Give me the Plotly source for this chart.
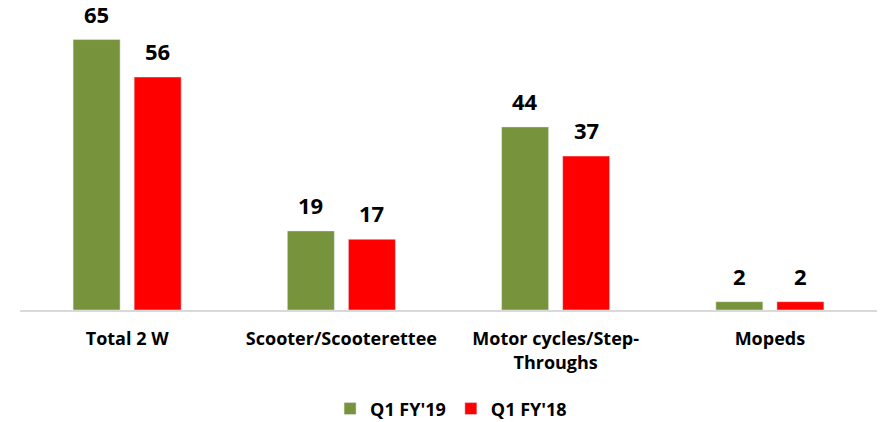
import plotly.graph_objects as go

categories = ["Total 2 W", "Scooter/Scooterettee", "Motor cycles/Step-<br>Throughs", "Mopeds"]
q1_fy19 = [65, 19, 44, 2]
q1_fy18 = [56, 17, 37, 2]

green = "#77933C"
red = "#FF0000"
font_family = "Open Sans, Arial, sans-serif"

fig = go.Figure()
fig.add_trace(go.Bar(x=categories, y=q1_fy19, name="Q1 FY'19", marker_color=green))
fig.add_trace(go.Bar(x=categories, y=q1_fy18, name="Q1 FY'18", marker_color=red))

# value labels above each bar
annotations = []
for vals, shift in [(q1_fy19, -30.5), (q1_fy18, 30.5)]:
    for cat, v in zip(categories, vals):
        annotations.append(dict(x=cat, y=v, text=str(v), showarrow=False,
                                xshift=shift, yshift=9, yanchor="bottom",
                                font=dict(size=22, color="black", family=font_family, weight="bold")))

fig.update_layout(
    width=881, height=422,
    margin=dict(l=20, r=4, t=20, b=112, autoexpand=False),
    plot_bgcolor="white", paper_bgcolor="white",
    barmode="group", bargap=0.43, bargroupgap=0.23,
    font=dict(family=font_family, color="black"),
    annotations=annotations,
    legend=dict(orientation="h", x=0.503, xanchor="center", y=-0.341, yanchor="middle",
                font=dict(size=18, family=font_family, weight="bold"), traceorder="normal"),
)
fig.update_xaxes(showline=True, linecolor="#d9d9d9", linewidth=1.5, ticks="",
                 tickfont=dict(size=18, family=font_family, weight="bold"), ticklabelstandoff=12)
fig.update_yaxes(range=[0, 69.7], visible=False, showgrid=False)

# drop the default page margin so the figure sits at the window corner
fig.write_html("out.html", config={"displayModeBar": False},
               post_script="document.body.style.margin='0';")
